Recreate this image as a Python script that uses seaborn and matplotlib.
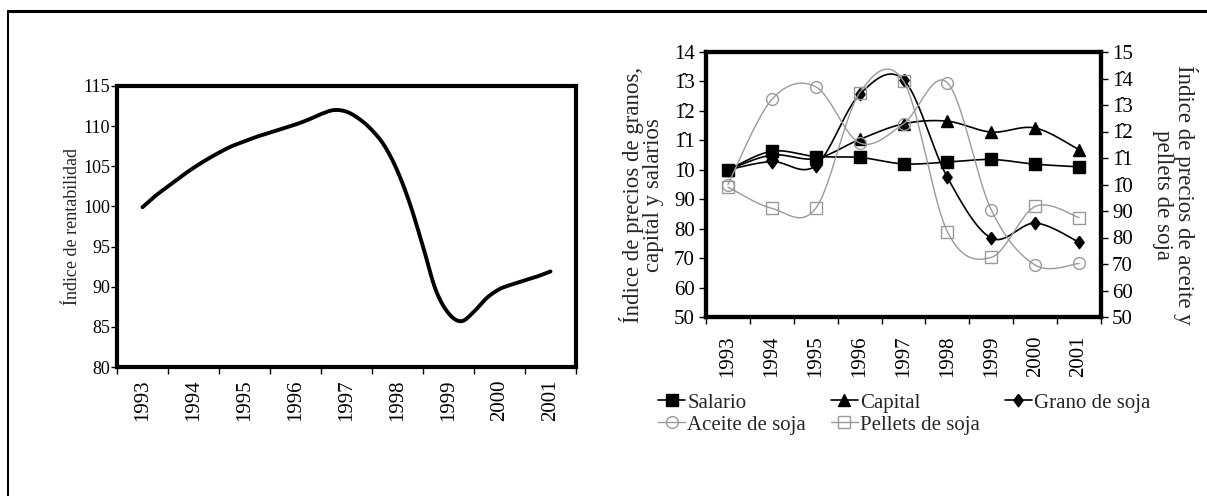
import numpy as np
import pandas as pd
import matplotlib
matplotlib.use("Agg")
import matplotlib.pyplot as plt
from matplotlib.lines import Line2D
import seaborn as sns

# ---------------- data ----------------
years = list(range(1993, 2002))
year_labels = [str(y) for y in years]

# quarterly profitability index (1993 = 100)
rent_time = [1993 + q / 4 for q in range(33)]
rentabilidad = [99.9, 101.3, 102.5, 103.7, 104.8, 105.8, 106.7, 107.5,
                108.1, 108.7, 109.2, 109.7, 110.2, 110.8, 111.5, 112.0,
                111.8, 110.9, 109.5, 107.5, 104.4, 100.2, 95.0, 89.6,
                86.7, 85.7, 86.9, 88.6, 89.7, 90.3, 90.8, 91.3, 91.9]

# price indices, left axis
salario = [100.0, 106.3, 104.5, 104.2, 102.0, 102.6, 103.5, 101.9, 101.0]
capital = [100.0, 105.0, 103.8, 110.3, 115.6, 116.5, 112.8, 114.2, 106.8]
grano = [100.0, 102.8, 101.4, 125.6, 130.6, 97.4, 76.8, 81.9, 75.4]
# price indices, right axis
aceite = [100.0, 132.1, 136.9, 115.7, 122.9, 138.4, 90.4, 69.6, 70.2]
pellets = [99.0, 91.0, 91.0, 134.6, 139.0, 82.2, 72.5, 91.7, 87.5]

rent_ticks = [80, 85, 90, 95, 100, 105, 110, 115]
left_ticks = [50, 60, 70, 80, 90, 100, 110, 120, 130, 140]
left_tick_labels = ["50", "60", "70", "80", "90",
                    "1\u03020", "1\u03021", "1\u03022", "1\u03023", "14"]
right_ticks = [50, 60, 70, 80, 90, 100, 110, 120, 130, 140, 150]
right_tick_labels = ["50", "60", "70", "80", "90",
                     "1\u03020", "1\u03021", "1\u03022", "1\u03023", "1\u03024", "15"]

GREY = "#9a9a9a"
DIAMOND = [(0, 1), (0.75, 0), (0, -1), (-0.75, 0), (0, 1)]


def smooth(x, y, n=24):
    """Catmull-Rom style smoothing through the given points."""
    x = np.asarray(x, float)
    y = np.asarray(y, float)
    px = np.r_[x[0], x, x[-1]]
    py = np.r_[y[0], y, y[-1]]
    t = np.linspace(0, 1, n, endpoint=False)
    xs, ys = [], []
    for i in range(1, len(px) - 2):
        for p, out in ((px, xs), (py, ys)):
            p0, p1, p2, p3 = p[i - 1], p[i], p[i + 1], p[i + 2]
            b1 = p1 + (p2 - p0) / 6
            b2 = p2 - (p3 - p1) / 6
            out.extend((1 - t) ** 3 * p1 + 3 * (1 - t) ** 2 * t * b1
                       + 3 * (1 - t) * t ** 2 * b2 + t ** 3 * p2)
    xs.append(x[-1])
    ys.append(y[-1])
    return pd.DataFrame({"x": xs, "y": ys})


sns.set_theme(style="ticks")
plt.rcParams["font.family"] = ["Liberation Serif", "DejaVu Serif"]
plt.rcParams["axes.edgecolor"] = "black"
plt.rcParams["xtick.color"] = "black"
plt.rcParams["ytick.color"] = "black"

W, H = 1207, 496
fig = plt.figure(figsize=(W / 100, H / 100), dpi=100)
fig.patch.set_facecolor("white")


def year_axis(ax, size, pad):
    ax.set_xlim(1992.5, 2001.5)
    ax.set_xticks(np.arange(1992.5, 2002, 1.0))
    ax.set_xticklabels([])
    ax.set_xticks(years, minor=True)
    ax.set_xticklabels(year_labels, minor=True, rotation=90,
                       fontsize=size, va="top")
    ax.tick_params(axis="x", which="minor", length=0, pad=pad)
    ax.tick_params(axis="x", which="major", length=5, width=1, direction="out")


def frame(ax, lw=3.0):
    for s in ax.spines.values():
        s.set_visible(True)
        s.set_linewidth(lw)
        s.set_color("black")


# ---------------- left panel: profitability ----------------
axl = fig.add_axes([117 / W, 1 - 367 / H, 459 / W, 281 / H])
rent_df = smooth(rent_time, rentabilidad, n=8)
sns.lineplot(data=rent_df, x="x", y="y", ax=axl, color="black", lw=2.8,
             sort=False, estimator=None)
axl.set_ylim(80, 115)
axl.set_yticks(rent_ticks)
axl.set_yticklabels([str(v) for v in rent_ticks], fontsize=13)
axl.tick_params(axis="y", length=4, width=1, pad=1)
year_axis(axl, 15, 9)
axl.set_xlabel("")
axl.set_ylabel("Índice de rentabilidad", fontsize=13)
axl.yaxis.set_label_coords(-0.096, 0.5)
axl.yaxis.label.set_va("center")
frame(axl)

# ---------------- right panel: price indices ----------------
axr = fig.add_axes([706 / W, 1 - 317 / H, 395 / W, 265 / H])
axr2 = axr.twinx()

for vals, ax, col, lw in ((aceite, axr2, GREY, 1.0),
                          (pellets, axr2, GREY, 1.0),
                          (salario, axr, "black", 1.2),
                          (capital, axr, "black", 1.2),
                          (grano, axr, "black", 1.2)):
    sns.lineplot(data=smooth(years, vals), x="x", y="y", ax=ax, color=col,
                 lw=lw, sort=False, estimator=None)

styles = {
    "Salario": dict(marker="s", ms=9, mfc="black", mec="black", color="black", lw=1.2),
    "Aceite de soja": dict(marker="o", ms=8.5, mfc="none", mec=GREY, mew=1.0, color=GREY, lw=1.0),
    "Capital": dict(marker="^", ms=9, mfc="black", mec="black", color="black", lw=1.2),
    "Pellets de soja": dict(marker="s", ms=8.5, mfc="none", mec=GREY, mew=1.0, color=GREY, lw=1.0),
    "Grano de soja": dict(marker=DIAMOND, ms=9, mfc="black", mec="black", color="black", lw=1.2),
}
series = {"Salario": (salario, axr), "Aceite de soja": (aceite, axr2),
          "Capital": (capital, axr), "Pellets de soja": (pellets, axr2),
          "Grano de soja": (grano, axr)}
for name, (vals, ax) in series.items():
    st = dict(styles[name])
    st.pop("lw")
    st.pop("color")
    ax.plot(years, vals, ls="none", **st)

axr.set_ylim(50, 140)
axr.set_yticks(left_ticks)
axr.set_yticklabels(left_tick_labels, fontsize=15)
axr.tick_params(axis="y", length=5, width=1, pad=3)
axr2.set_ylim(50, 150)
axr2.set_yticks(right_ticks)
axr2.set_yticklabels(right_tick_labels, fontsize=15)
axr2.tick_params(axis="y", length=5, width=1, pad=3)
year_axis(axr, 15, 13)
axr.set_xlabel("")
axr2.set_xlabel("")
axr.set_ylabel("Índice de precios de granos,\ncapital y salarios",
               fontsize=16.5, linespacing=0.98)
axr.yaxis.set_label_coords(-0.163, 0.46)
axr.yaxis.label.set_va("center")
axr2.set_ylabel("Índice de precios de aceite y\npellets de soja",
                fontsize=16.5, rotation=270, linespacing=0.98)
axr2.yaxis.set_label_coords(1.187, 0.46)
axr2.yaxis.label.set_va("center")
frame(axr)
frame(axr2)

handles = [Line2D([], [], **styles[n]) for n in series]
fig.legend(handles, list(series), loc="upper left",
           bbox_to_anchor=(658 / W, 1 - 393 / H), ncol=3, frameon=False,
           fontsize=15, handlelength=1.3, handletextpad=0.1,
           columnspacing=1.2, borderpad=0, labelspacing=0.12, borderaxespad=0)

# outer border of the figure panel
fig.add_artist(Line2D([7.5 / W, 1.0], [1 - 11 / H, 1 - 11 / H],
                      transform=fig.transFigure, color="black", lw=2.2))
fig.add_artist(Line2D([7.5 / W, 7.5 / W], [0.0, 1 - 11 / H],
                      transform=fig.transFigure, color="black", lw=1.5))

fig.savefig("out.png", dpi=100, facecolor="white")
